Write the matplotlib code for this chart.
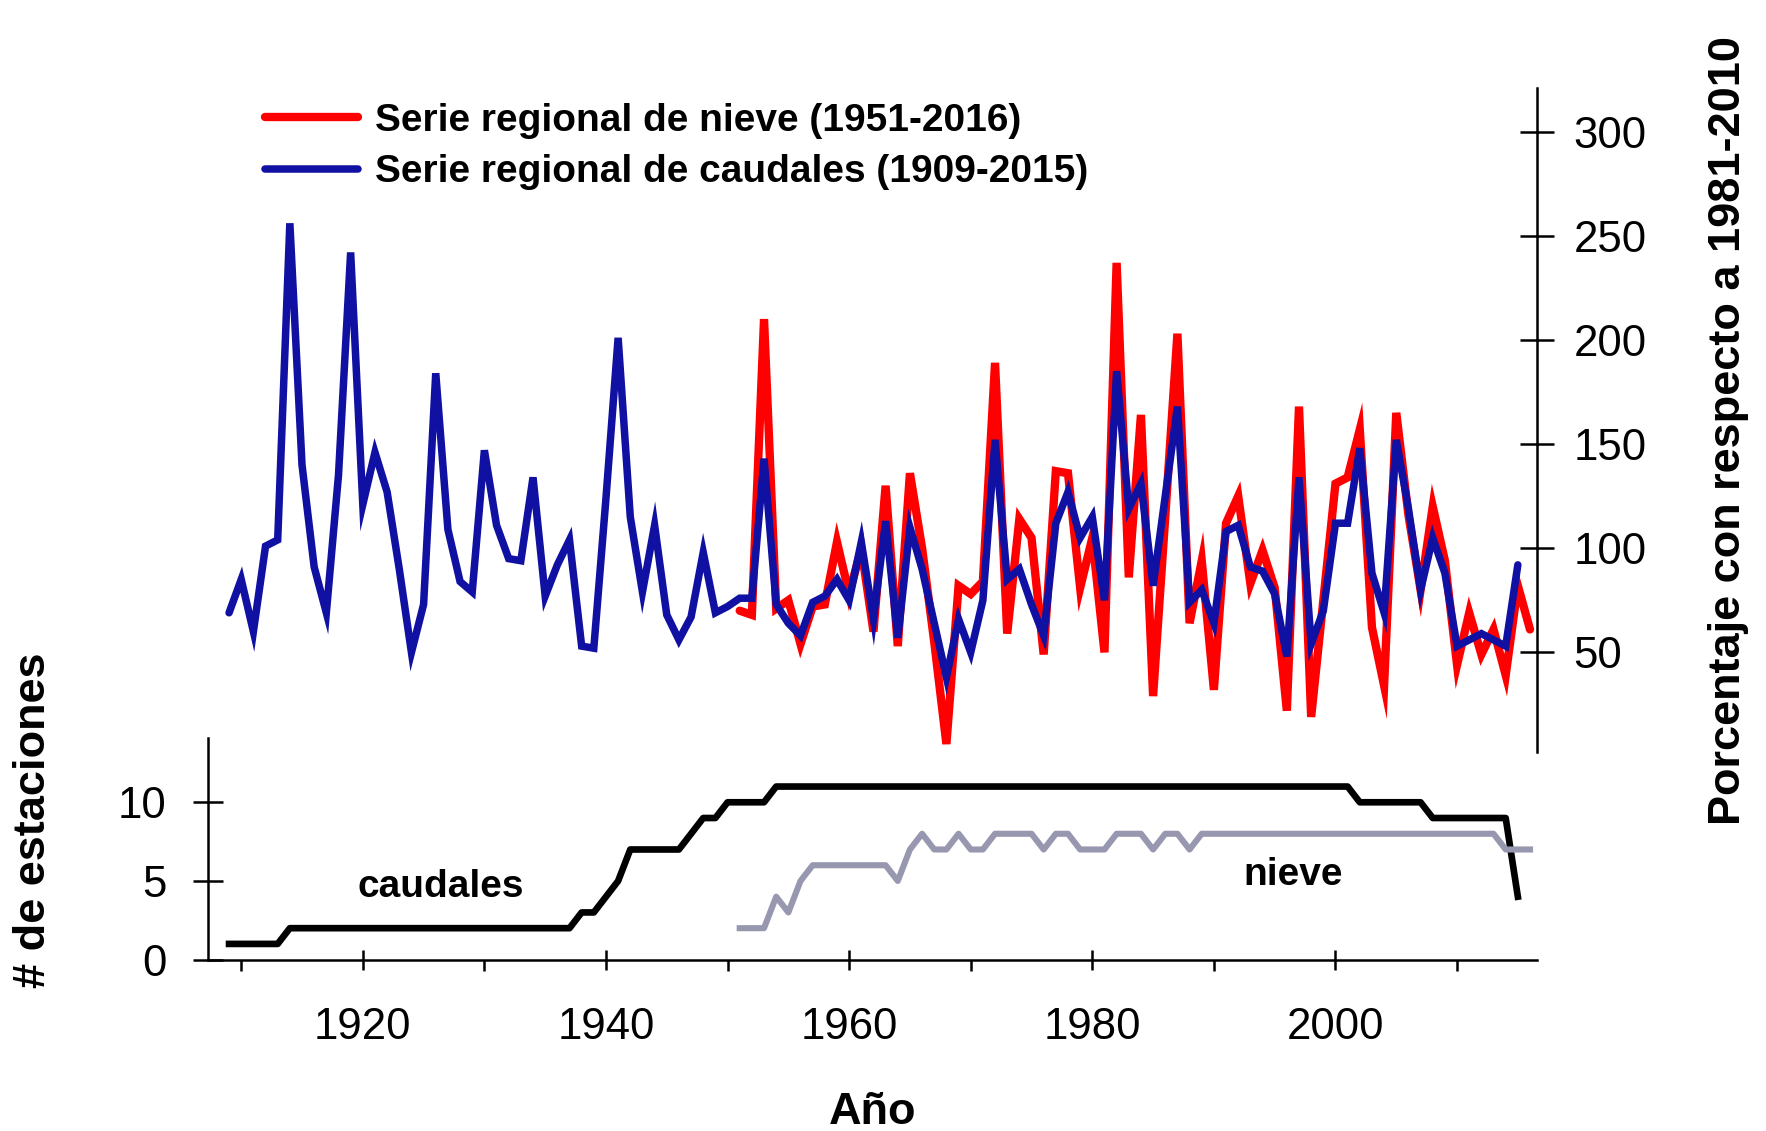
import matplotlib.pyplot as plt
import numpy as np

plt.rcParams['font.family'] = ['Liberation Sans', 'DejaVu Sans']

# Serie regional de caudales, % respecto a 1981-2010 (1909-2015)
caudales_years = np.arange(1909, 2016)
caudales_pct = [
    69, 85, 60, 101, 104, 256, 140, 91, 69, 135,    # 1909-1918
    242, 121, 146, 127, 90, 50, 73, 184, 109, 84,   # 1919-1928
    79, 147, 111, 95, 94, 134, 77, 92, 104, 53,     # 1929-1938
    52, 124, 201, 115, 79, 111, 68, 56, 67, 98,     # 1939-1948
    69, 72, 76, 76, 143, 73, 64, 58, 74, 77,        # 1949-1958
    85, 75, 103, 66, 113, 57, 110, 90, 64, 38,      # 1959-1968
    66, 50, 75, 152, 85, 90, 73, 58, 112, 127,      # 1969-1978
    105, 115, 75, 185, 119, 131, 82, 125, 168, 74,  # 1979-1988
    80, 64, 108, 111, 91, 89, 78, 48, 134, 54,      # 1989-1998
    70, 112, 112, 148, 88, 69, 152, 119, 80, 105,   # 1999-2008
    88, 53, 56, 59, 56, 53, 92,                     # 2009-2015
]

# Serie regional de nieve, % respecto a 1981-2010 (1951-2016)
nieve_years = np.arange(1951, 2017)
nieve_pct = [
    70, 68, 210, 71, 75, 54, 72, 73, 103, 78,       # 1951-1960
    100, 60, 130, 53, 136, 100, 55, 6, 82, 78,      # 1961-1970
    84, 189, 59, 114, 105, 49, 137, 136, 81, 105,   # 1971-1980
    50, 237, 86, 164, 29, 115, 203, 64, 94, 32,     # 1981-1990
    112, 125, 83, 99, 81, 22, 168, 19, 75, 131,     # 1991-2000
    134, 157, 62, 34, 165, 116, 80, 120, 94, 44,    # 2001-2010
    69, 49, 61, 39, 82, 61,                         # 2011-2016
]

# numero de estaciones en cada serie
est_caudales = [
    1, 1, 1, 1, 1, 2, 2, 2, 2, 2,      # 1909-1918
    2, 2, 2, 2, 2, 2, 2, 2, 2, 2,      # 1919-1928
    2, 2, 2, 2, 2, 2, 2, 2, 2, 3,      # 1929-1938
    3, 4, 5, 7, 7, 7, 7, 7, 8, 9,      # 1939-1948
    9, 10, 10, 10, 10, 11, 11, 11, 11, 11,  # 1949-1958
    11, 11, 11, 11, 11, 11, 11, 11, 11, 11,  # 1959-1968
    11, 11, 11, 11, 11, 11, 11, 11, 11, 11,  # 1969-1978
    11, 11, 11, 11, 11, 11, 11, 11, 11, 11,  # 1979-1988
    11, 11, 11, 11, 11, 11, 11, 11, 11, 11,  # 1989-1998
    11, 11, 11, 10, 10, 10, 10, 10, 10, 9,   # 1999-2008
    9, 9, 9, 9, 9, 9, 4,                     # 2009-2015
]
est_nieve = [
    2, 2, 2, 4, 3, 5, 6, 6, 6, 6,      # 1951-1960
    6, 6, 6, 5, 7, 8, 7, 7, 8, 7,      # 1961-1970
    7, 8, 8, 8, 8, 7, 8, 8, 7, 7,      # 1971-1980
    7, 8, 8, 8, 7, 8, 8, 7, 8, 8,      # 1981-1990
    8, 8, 8, 8, 8, 8, 8, 8, 8, 8,      # 1991-2000
    8, 8, 8, 8, 8, 8, 8, 8, 8, 8,      # 2001-2010
    8, 8, 8, 7, 7, 7,                  # 2011-2016
]

red = "#ff0000"
blue = "#1010a2"
grey = "#9797b0"
tick_fs = 31.5
lab_fs = 32.5
txt_fs = 28

fig = plt.figure(figsize=(17.66, 11.31), dpi=100)
ax_b = fig.add_axes([0.118, 0.1515, 0.7525, 0.1962])
ax_t = fig.add_axes([0.118, 0.3348, 0.7525, 0.5875])
ax_t.set_facecolor("none")

xlim = (1907.3, 2016.6)

# --- arriba: porcentaje ---
l_red, = ax_t.plot(nieve_years, nieve_pct, color=red, lw=6,
                   solid_joinstyle="miter", solid_capstyle="round")
l_blue, = ax_t.plot(caudales_years, caudales_pct, color=blue, lw=5.4,
                    solid_joinstyle="miter", solid_capstyle="round")
ax_t.set_xlim(*xlim)
ax_t.set_ylim(2, 321)
ax_t.set_yticks([50, 100, 150, 200, 250, 300])
ax_t.yaxis.tick_right()
ax_t.xaxis.set_visible(False)
for s in ["left", "top", "bottom"]:
    ax_t.spines[s].set_visible(False)
ax_t.spines["right"].set_linewidth(1.8)
ax_t.tick_params(axis="y", direction="inout", length=24, width=1.8,
                 labelsize=tick_fs, pad=14)

ax_t.legend([l_red, l_blue],
            ["Serie regional de nieve (1951-2016)",
             "Serie regional de caudales (1909-2015)"],
            loc="upper left", bbox_to_anchor=(0.150, 0.909),
            bbox_transform=fig.transFigure, frameon=False,
            prop={"size": txt_fs, "weight": "bold"},
            handlelength=2.4, handletextpad=0.44, labelspacing=0.40,
            borderpad=0, borderaxespad=0)

# --- abajo: numero de estaciones ---
ax_b.plot(caudales_years, est_caudales, color="black", lw=4.8)
ax_b.plot(nieve_years, est_nieve, color=grey, lw=4.4)
ax_b.set_xlim(*xlim)
ax_b.set_ylim(0, 14.1)
ax_b.set_yticks([0, 5, 10])
ax_b.set_xticks([1920, 1940, 1960, 1980, 2000])
ax_b.set_xticks([1910, 1930, 1950, 1970, 1990, 2010], minor=True)
for s in ["right", "top"]:
    ax_b.spines[s].set_visible(False)
for s in ["left", "bottom"]:
    ax_b.spines[s].set_linewidth(1.8)
ax_b.tick_params(axis="y", direction="inout", length=22, width=1.8,
                 labelsize=tick_fs, pad=19)
ax_b.tick_params(axis="x", which="major", direction="inout", length=14, width=1.8,
                 labelsize=tick_fs, pad=27)
ax_b.tick_params(axis="x", which="minor", direction="out", length=8, width=1.8)

ax_b.text(1926.4, 4.6, "caudales", fontsize=txt_fs, fontweight="bold",
          ha="center", va="center")
ax_b.text(1996.5, 5.4, "nieve", fontsize=txt_fs, fontweight="bold",
          ha="center", va="center")

ax_b.set_xlabel("Año", fontsize=lab_fs, fontweight="bold", labelpad=32)
fig.text(0.0191, 0.275, "# de estaciones", rotation=90, fontsize=lab_fs,
         fontweight="bold", ha="center", va="center")
fig.text(0.979, 0.619, "Porcentaje con respecto a 1981-2010", rotation=90,
         fontsize=lab_fs, fontweight="bold", ha="center", va="center")

fig.savefig("out.png", dpi=100)
